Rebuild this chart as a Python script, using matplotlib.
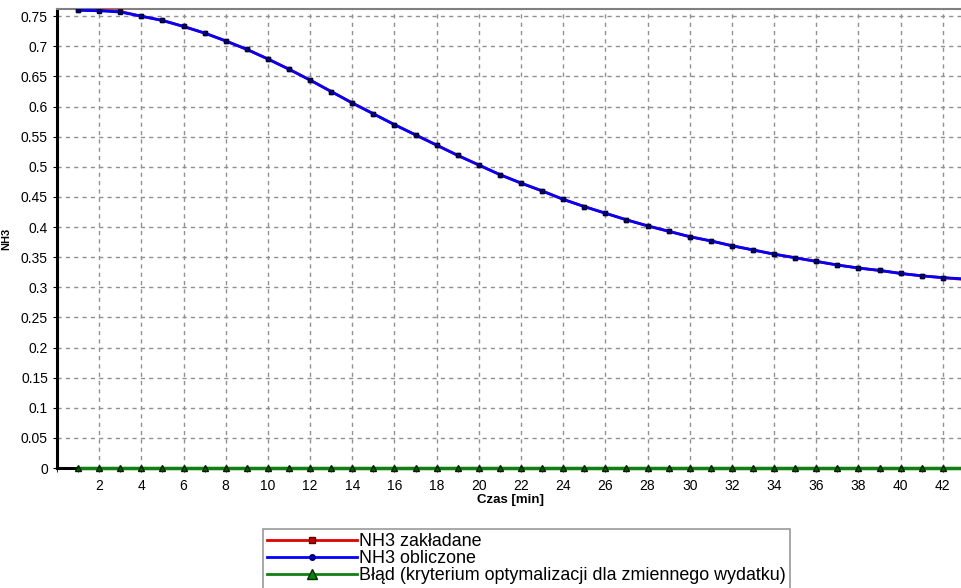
import matplotlib
matplotlib.use("Agg")
import matplotlib.pyplot as plt
from matplotlib.ticker import MultipleLocator, FixedLocator
from matplotlib.lines import Line2D

plt.rcParams['font.family'] = ['Liberation Sans', 'DejaVu Sans']

czas = list(range(1, 44))
nh3_obliczone = [0.760, 0.759, 0.757, 0.750, 0.743, 0.733, 0.722, 0.709, 0.695, 0.679,
                 0.662, 0.644, 0.625, 0.606, 0.588, 0.570, 0.553, 0.536, 0.519, 0.503,
                 0.487, 0.473, 0.460, 0.446, 0.434, 0.423, 0.412, 0.402, 0.393, 0.384,
                 0.377, 0.369, 0.362, 0.355, 0.349, 0.343, 0.337, 0.332, 0.328, 0.323,
                 0.319, 0.316, 0.314]
nh3_zakladane = [0.760, 0.760, 0.758, 0.750, 0.743, 0.733, 0.722, 0.709, 0.695, 0.679,
                 0.662, 0.644, 0.625, 0.606, 0.588, 0.570, 0.553, 0.536, 0.519, 0.503,
                 0.487, 0.473, 0.460, 0.446, 0.434, 0.423, 0.412, 0.402, 0.393, 0.384,
                 0.377, 0.369, 0.362, 0.355, 0.349, 0.343, 0.337, 0.332, 0.328, 0.323,
                 0.319, 0.316, 0.313]
blad = [0.0005] * 43

labels = ["NH3 zakładane", "NH3 obliczone",
          "Błąd (kryterium optymalizacji dla zmiennego wydatku)"]

fig = plt.figure(figsize=(9.62, 5.88), dpi=100)
ax = fig.add_axes([57/962, 120/588, 1 - 57/962 + 0.002, (468-9)/588])

ax.plot(czas, nh3_zakladane, color='#e00000', lw=2, marker='s', ms=3.5,
        mfc='#800000', mec='#400000', zorder=3)
ax.plot(czas, nh3_obliczone, color='#0000ff', lw=2, marker='s', ms=3.5,
        mfc='#000080', mec='#000040', zorder=4)
ax.plot(czas, blad, color='#108010', lw=2.5, marker='^', ms=4.5,
        mfc='#006000', mec='#002000', zorder=5, clip_on=False)

ax.set_xlim(0, 43)
ax.set_ylim(0, 0.762)
ax.xaxis.set_major_locator(FixedLocator(list(range(2, 43, 2))))
ax.xaxis.set_minor_locator(MultipleLocator(1))
ax.yaxis.set_major_locator(FixedLocator([i * 0.05 for i in range(16)]))
ax.set_yticklabels(["0", "0.05", "0.1", "0.15", "0.2", "0.25", "0.3", "0.35", "0.4",
                    "0.45", "0.5", "0.55", "0.6", "0.65", "0.7", "0.75"])
ax.grid(True, which='major', color='#909090', linestyle=(0, (3, 3)), lw=1)
ax.tick_params(axis='both', labelsize=10, length=3, color='black')
ax.tick_params(axis='x', which='minor', length=3)
ax.tick_params(axis='x', pad=5)
for s in ['left', 'bottom']:
    ax.spines[s].set_linewidth(2.2)
    ax.spines[s].set_color('black')
ax.spines['top'].set_color('#808080')
ax.spines['top'].set_linewidth(1.5)
ax.spines['right'].set_visible(False)

ax.set_xlabel("Czas [min]", fontsize=9.5, fontweight='bold', labelpad=1)
ax.set_ylabel("NH3", fontsize=8, fontweight='bold')
ax.yaxis.set_label_coords(-0.05, 0.5)

handles = [
    Line2D([], [], color='#e00000', lw=2, marker='s', ms=4, mfc='#c00000', mec='#600000'),
    Line2D([], [], color='#0000ff', lw=2, marker='o', ms=4, mfc='#0000c0', mec='#000060'),
    Line2D([], [], color='#108010', lw=2, marker='^', ms=7, mfc='#108010', mec='#003000'),
]
leg = fig.legend(handles, labels, loc='upper left', bbox_to_anchor=(263/962, 1 - 529/588),
                 frameon=True, fancybox=False, fontsize=12.9, handlelength=5.0,
                 handletextpad=0.1, labelspacing=0.0, borderpad=0.25,
                 edgecolor='#808080', borderaxespad=0)
leg.get_frame().set_linewidth(1.2)

fig.savefig("out.png", dpi=100)
